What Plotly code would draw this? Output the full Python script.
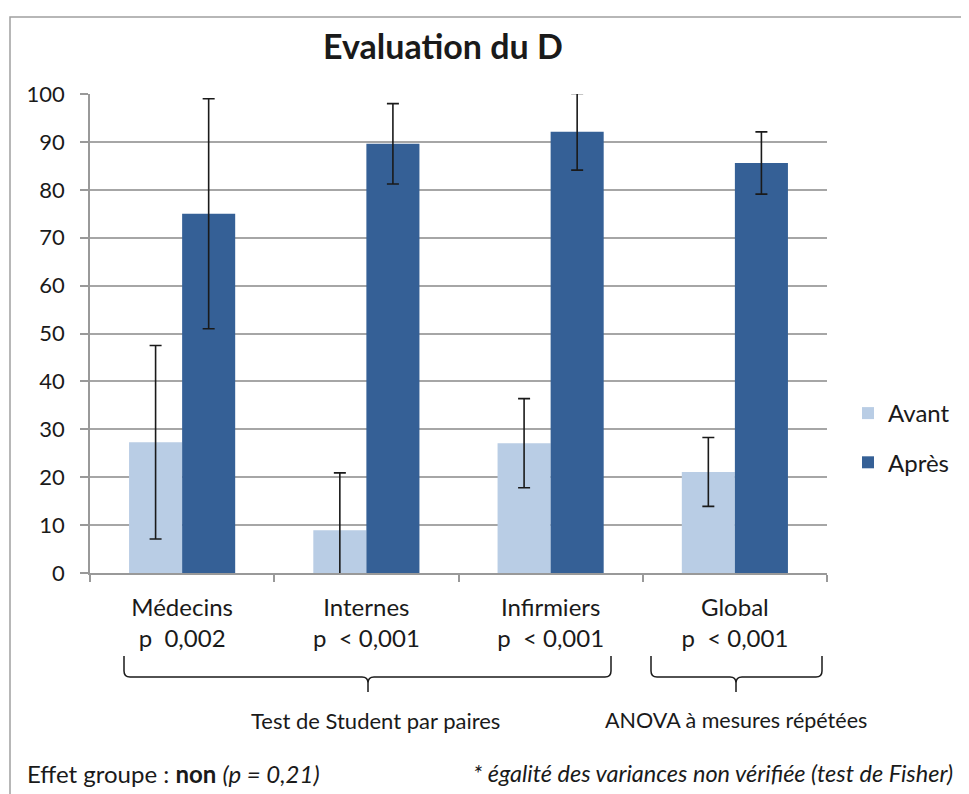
import plotly.graph_objects as go

categories = ["Médecins<br>p  0,002", "Internes<br>p  < 0,001", "Infirmiers<br>p  < 0,001", "Global<br>p  < 0,001"]
avant = [27.3, 8.9, 27.1, 21.1]
avant_err = [20.2, 12.0, 9.3, 7.2]
apres = [75.0, 89.6, 92.1, 85.6]
apres_err = [24.0, 8.4, 8.0, 6.5]

FONT = "Lato"
O = 8  # page body margin offset
W, H = 969 - O, 794 - O
L, R, T, B = 90 - O, 142, 94 - O, 221
PW, PH = W - L - R, H - T - B

def px(x):
    return (x - O - L) / PW

def py(y):
    return (H - B - (y - O)) / PH

fig = go.Figure()
fig.add_trace(go.Bar(
    x=categories, y=avant, name="Avant", marker_color="#B9CDE5", marker_line_width=0,
    error_y=dict(type="data", array=avant_err, color="#1a1a1a", thickness=1.6, width=6),
    legendgroup="a",
))
fig.add_trace(go.Bar(
    x=categories, y=apres, name="Après", marker_color="#356096", marker_line_width=0,
    error_y=dict(type="data", array=apres_err, color="#1a1a1a", thickness=1.6, width=6),
    legendgroup="b",
))

shapes = []
shapes.append(dict(type="rect", xref="paper", yref="paper",
                   x0=px(10), x1=px(990), y0=py(820), y1=py(17),
                   line=dict(color="#A0A0A0", width=1.5), layer="below"))

def brace(x0, x1, xm, ytop, ymid, ytip):
    r = 6
    path = (f"M {px(x0)},{py(ytop)} L {px(x0)},{py(ymid - r)} "
            f"Q {px(x0)},{py(ymid)} {px(x0 + r)},{py(ymid)} "
            f"L {px(xm - r)},{py(ymid)} Q {px(xm)},{py(ymid)} {px(xm)},{py(ymid + r)} "
            f"L {px(xm)},{py(ytip)} M {px(xm)},{py(ymid + r)} "
            f"Q {px(xm)},{py(ymid)} {px(xm + r)},{py(ymid)} "
            f"L {px(x1 - r)},{py(ymid)} Q {px(x1)},{py(ymid)} {px(x1)},{py(ymid - r)} "
            f"L {px(x1)},{py(ytop)}")
    return dict(type="path", xref="paper", yref="paper", path=path,
                line=dict(color="#1a1a1a", width=1.5))

shapes.append(brace(124, 611, 368, 656, 677, 692))
shapes.append(brace(651, 822, 736, 656, 677, 692))

annotations = [
    dict(text="Test de Student par paires", x=px(375), y=py(720), xref="paper", yref="paper",
         showarrow=False, font=dict(size=22, family=FONT, color="#1a1a1a"), xanchor="center", yanchor="middle"),
    dict(text="ANOVA à mesures répétées", x=px(736), y=py(720), xref="paper", yref="paper",
         showarrow=False, font=dict(size=21.5, family=FONT, color="#1a1a1a"), xanchor="center", yanchor="middle"),
    dict(text="Effet groupe : <b>non</b> <i>(p = 0,21)</i>", x=px(25), y=py(773), xref="paper", yref="paper",
         showarrow=False, font=dict(size=24, family=FONT, color="#1a1a1a"), xanchor="left", yanchor="middle"),
    dict(text="<i>* égalité des variances non vérifiée (test de Fisher)</i>", x=px(955), y=py(773),
         xref="paper", yref="paper", showarrow=False, font=dict(size=23.5, family=FONT, color="#1a1a1a"),
         xanchor="right", yanchor="middle"),
]

fig.update_layout(
    width=W, height=H,
    margin=dict(l=L, r=R, t=T, b=B),
    paper_bgcolor="white", plot_bgcolor="white",
    barmode="group", bargap=0.424, bargroupgap=0,
    title=dict(text="<b>Evaluation du D</b>", x=px(443), xref="paper", xanchor="center",
               y=1 - (47 - O) / H, yanchor="middle", font=dict(size=34, family=FONT, color="#1a1a1a")),
    font=dict(family=FONT, color="#1a1a1a"),
    legend=dict(x=px(848), y=py(391), xanchor="left", yanchor="top", xref="paper", yref="paper",
                font=dict(size=24, family=FONT, color="#1a1a1a"), tracegroupgap=15,
                traceorder="grouped", itemwidth=30, bgcolor="rgba(0,0,0,0)"),
    shapes=shapes,
    annotations=annotations,
    xaxis=dict(showline=True, linecolor="#999999", linewidth=1.5, ticks="outside", tickson="boundaries",
               tickcolor="#999999", ticklen=7, tickwidth=1.5, tickfont=dict(size=24, family=FONT, color="#1a1a1a"),
               ticklabelstandoff=12, showgrid=False),
    yaxis=dict(range=[0, 100], dtick=10, showline=True, linecolor="#999999", linewidth=1.5,
               ticks="outside", tickcolor="#999999", ticklen=8, tickwidth=1.5,
               showgrid=True, gridcolor="#A6A6A6", gridwidth=1.5, zeroline=False,
               ticklabelstandoff=11,
               tickfont=dict(size=22, family=FONT, color="#1a1a1a")),
)

fig.write_html("out.html")
